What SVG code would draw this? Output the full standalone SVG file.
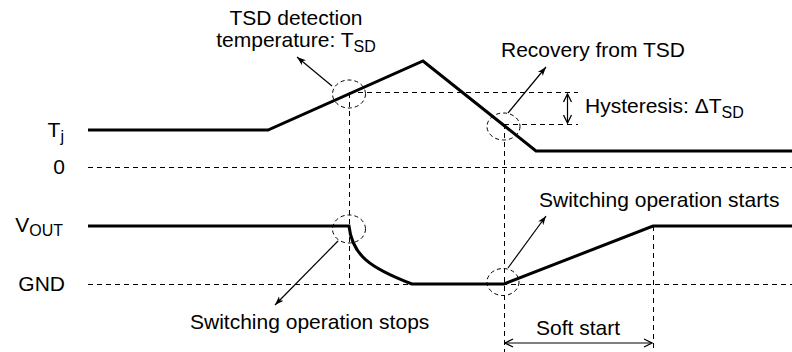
<svg xmlns="http://www.w3.org/2000/svg" width="792" height="352" viewBox="0 0 792 352">
<style>
.t{font-family:"Liberation Sans",Arial,sans-serif;font-size:21px;fill:#000}
.s{font-size:16px}
.w{fill:none;stroke:#000;stroke-width:3;stroke-linejoin:miter}
.d{fill:none;stroke:#000;stroke-width:1;stroke-dasharray:5,4}
.c{fill:none;stroke:#000;stroke-width:1;stroke-dasharray:4,3}
.a{fill:none;stroke:#000;stroke-width:1.2}
</style>
<defs>
<marker id="ah" markerWidth="10" markerHeight="8" refX="9" refY="4" orient="auto" markerUnits="userSpaceOnUse">
<path d="M0,0.8 L9,4 L0,7.2 L2.5,4 Z" fill="#000"/>
</marker>
<marker id="oh" markerWidth="10" markerHeight="10" refX="9" refY="5" orient="auto-start-reverse" markerUnits="userSpaceOnUse">
<path d="M1,1 L9,5 L1,9" fill="none" stroke="#000" stroke-width="1.3"/>
</marker>
</defs>
<rect width="792" height="352" fill="#fff"/>
<g id="axes">
<line class="d" x1="88" y1="167.5" x2="792" y2="167.5"/>
<line class="d" x1="88" y1="284.5" x2="792" y2="284.5"/>
<line class="d" x1="349" y1="92.5" x2="578" y2="92.5"/>
<line class="d" x1="504" y1="124.5" x2="578" y2="124.5"/>
<line class="d" x1="349.5" y1="93" x2="349.5" y2="284"/>
<line class="d" x1="504.5" y1="124" x2="504.5" y2="352"/>
<line class="d" x1="653.5" y1="226" x2="653.5" y2="352"/>
</g>
<g id="labels">
<text class="t" x="64" y="137" text-anchor="end">T<tspan class="s" dy="5">j</tspan></text>
<text class="t" x="65" y="174" text-anchor="end">0</text>
<text class="t" x="63" y="232" text-anchor="end">V<tspan class="s" dy="4">OUT</tspan></text>
<text class="t" x="65" y="291" text-anchor="end">GND</text>
</g>
<g id="tj-waveform">
<polyline class="w" points="88,130 268,130 423,61 536,151 792,151"/>
</g>
<g id="vout-waveform">
<path class="w" d="M88,226 L349,226 C352,255 370,268 412,284 L504,284 L653,226 L792,226"/>
</g>
<g id="tsd-detection">
<ellipse class="c" cx="349" cy="94" rx="16.5" ry="14"/>
<text class="t" x="296" y="25" text-anchor="middle">TSD detection</text>
<text class="t" x="296" y="47" text-anchor="middle">temperature: T<tspan class="s" dy="5">SD</tspan></text>
</g>
<g id="recovery">
<ellipse class="c" cx="503.5" cy="126.5" rx="16.5" ry="13.5"/>
<text class="t" x="501" y="57">Recovery from TSD</text>
</g>
<g id="hysteresis">
<text class="t" x="585" y="113">Hysteresis: ΔT<tspan class="s" dy="5">SD</tspan></text>
</g>
<g id="switching-stops">
<ellipse class="c" cx="349" cy="229" rx="16.5" ry="14"/>
<text class="t" x="190" y="329">Switching operation stops</text>
</g>
<g id="switching-starts">
<ellipse class="c" cx="503" cy="282" rx="16" ry="13.5"/>
<text class="t" x="539" y="207">Switching operation starts</text>
</g>
<g id="soft-start">
<text class="t" x="578" y="335" text-anchor="middle">Soft start</text>
</g>
<g id="connectors">
<line class="a" x1="332" y1="86" x2="297" y2="57" marker-end="url(#ah)"/>
<line class="a" x1="508" y1="113" x2="546" y2="67" marker-end="url(#ah)"/>
<line class="a" x1="338" y1="241" x2="275" y2="305" marker-end="url(#ah)"/>
<line class="a" x1="508" y1="268" x2="546" y2="216" marker-end="url(#ah)"/>
<line class="a" x1="567.5" y1="94" x2="567.5" y2="123" marker-start="url(#oh)" marker-end="url(#oh)"/>
<line class="a" x1="505" y1="343" x2="652" y2="343" marker-start="url(#oh)" marker-end="url(#oh)"/>
</g>
</svg>
